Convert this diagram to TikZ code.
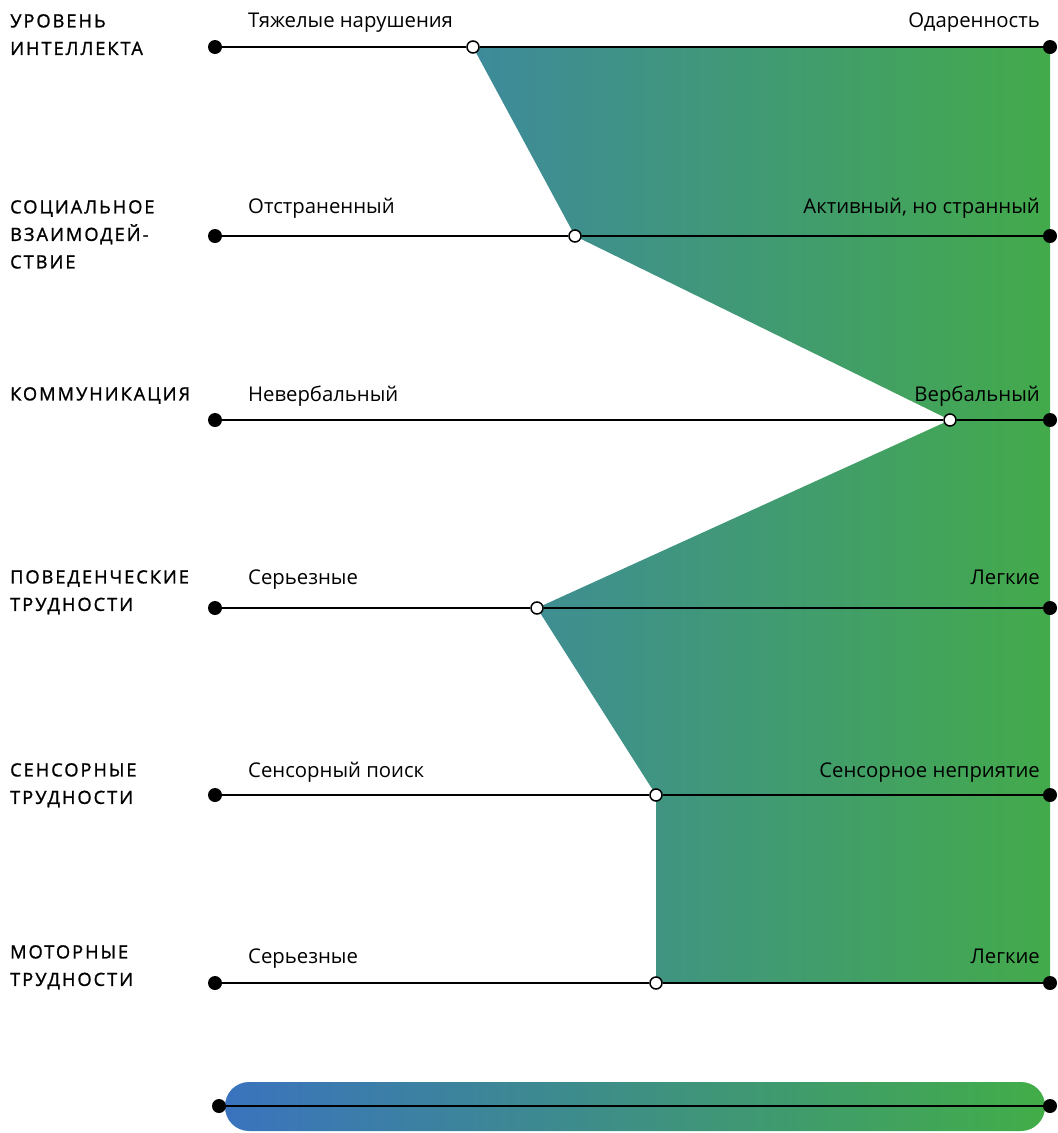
\documentclass[tikz,border=0pt]{standalone}
\usepackage{fontspec}
\setmainfont{Open Sans}
\newfontfamily\capsfont[LetterSpace=11,FakeBold=1.2]{Open Sans}
\definecolor{fillteal}{RGB}{62,138,155}
\definecolor{fillgreen}{RGB}{67,170,75}
\definecolor{scaleblue}{RGB}{58,115,190}
\definecolor{scalegreen}{RGB}{66,173,72}

\begin{document}
\begin{tikzpicture}[x=1pt,y=-1pt,
    dot/.style={circle,fill=black,inner sep=0pt,minimum size=14pt},
    opendot/.style={circle,draw=black,fill=white,line width=1.5pt,inner sep=0pt,minimum size=12pt},
    axis/.style={line width=1.2pt},
    group/.style={font=\capsfont\fontsize{18.2}{27.5}\selectfont,anchor=north west,align=left,inner sep=0pt},
    low/.style={font=\fontsize{20.3}{24}\selectfont,anchor=base west,inner sep=0pt},
    high/.style={font=\fontsize{20.3}{24}\selectfont,anchor=base east,inner sep=0pt}]
    \useasboundingbox (0,0) rectangle (1058,1133);
    \foreach \n/\y/\m in {1/47/473,2/236/575,3/420/950,4/608/537,5/795/656,6/983/656} {
        \coordinate (l\n) at (215,\y);
        \coordinate (p\n) at (\m,\y);
        \coordinate (r\n) at (1050,\y);
    }
    \shade[left color=fillteal,right color=fillgreen] (p1) -- (r1) -- (r6) -- (p6) -- (p5) -- (p4) -- (p3) -- (p2) -- cycle;
    \foreach \n in {1,...,6} {
        \node[dot] (L\n) at (l\n) {};
        \node[dot] (R\n) at (r\n) {};
        \node[opendot] (M\n) at (p\n) {};
        \draw[axis] (L\n) -- (M\n) -- (R\n);
    }
    % labels of each row
    \foreach \n/\t/\b/\g/\lo/\hi in {
        1/14/27/{УРОВЕНЬ\\ИНТЕЛЛЕКТА}/{Тяжелые нарушения}/{Одаренность},
        2/200/213/{СОЦИАЛЬНОЕ\\ВЗАИМОДЕЙ-\\СТВИЕ}/{Отстраненный}/{Активный, но странный},
        3/387/401/{КОММУНИКАЦИЯ}/{Невербальный}/{Вербальный},
        4/570/584/{ПОВЕДЕНЧЕСКИЕ\\ТРУДНОСТИ}/{Серьезные}/{Легкие},
        5/763/777/{СЕНСОРНЫЕ\\ТРУДНОСТИ}/{Сенсорный поиск}/{Сенсорное неприятие},
        6/945/963/{МОТОРНЫЕ\\ТРУДНОСТИ}/{Серьезные}/{Легкие}} {
        \node[group] (g\n) at (10,\t) {\g};
        \node[low] (lo\n) at (248,\b) {\lo};
        \node[high] (hi\n) at (1040,\b) {\hi};
    }
    % colour scale
    \shade[left color=scaleblue,right color=scalegreen,rounded corners=24pt] (225,1082) rectangle (1045,1131);
    \node[dot] (B1) at (219,1106) {};
    \node[dot] (B2) at (1050,1106) {};
    \draw[axis] (B1) -- (B2);
\end{tikzpicture}
\end{document}
